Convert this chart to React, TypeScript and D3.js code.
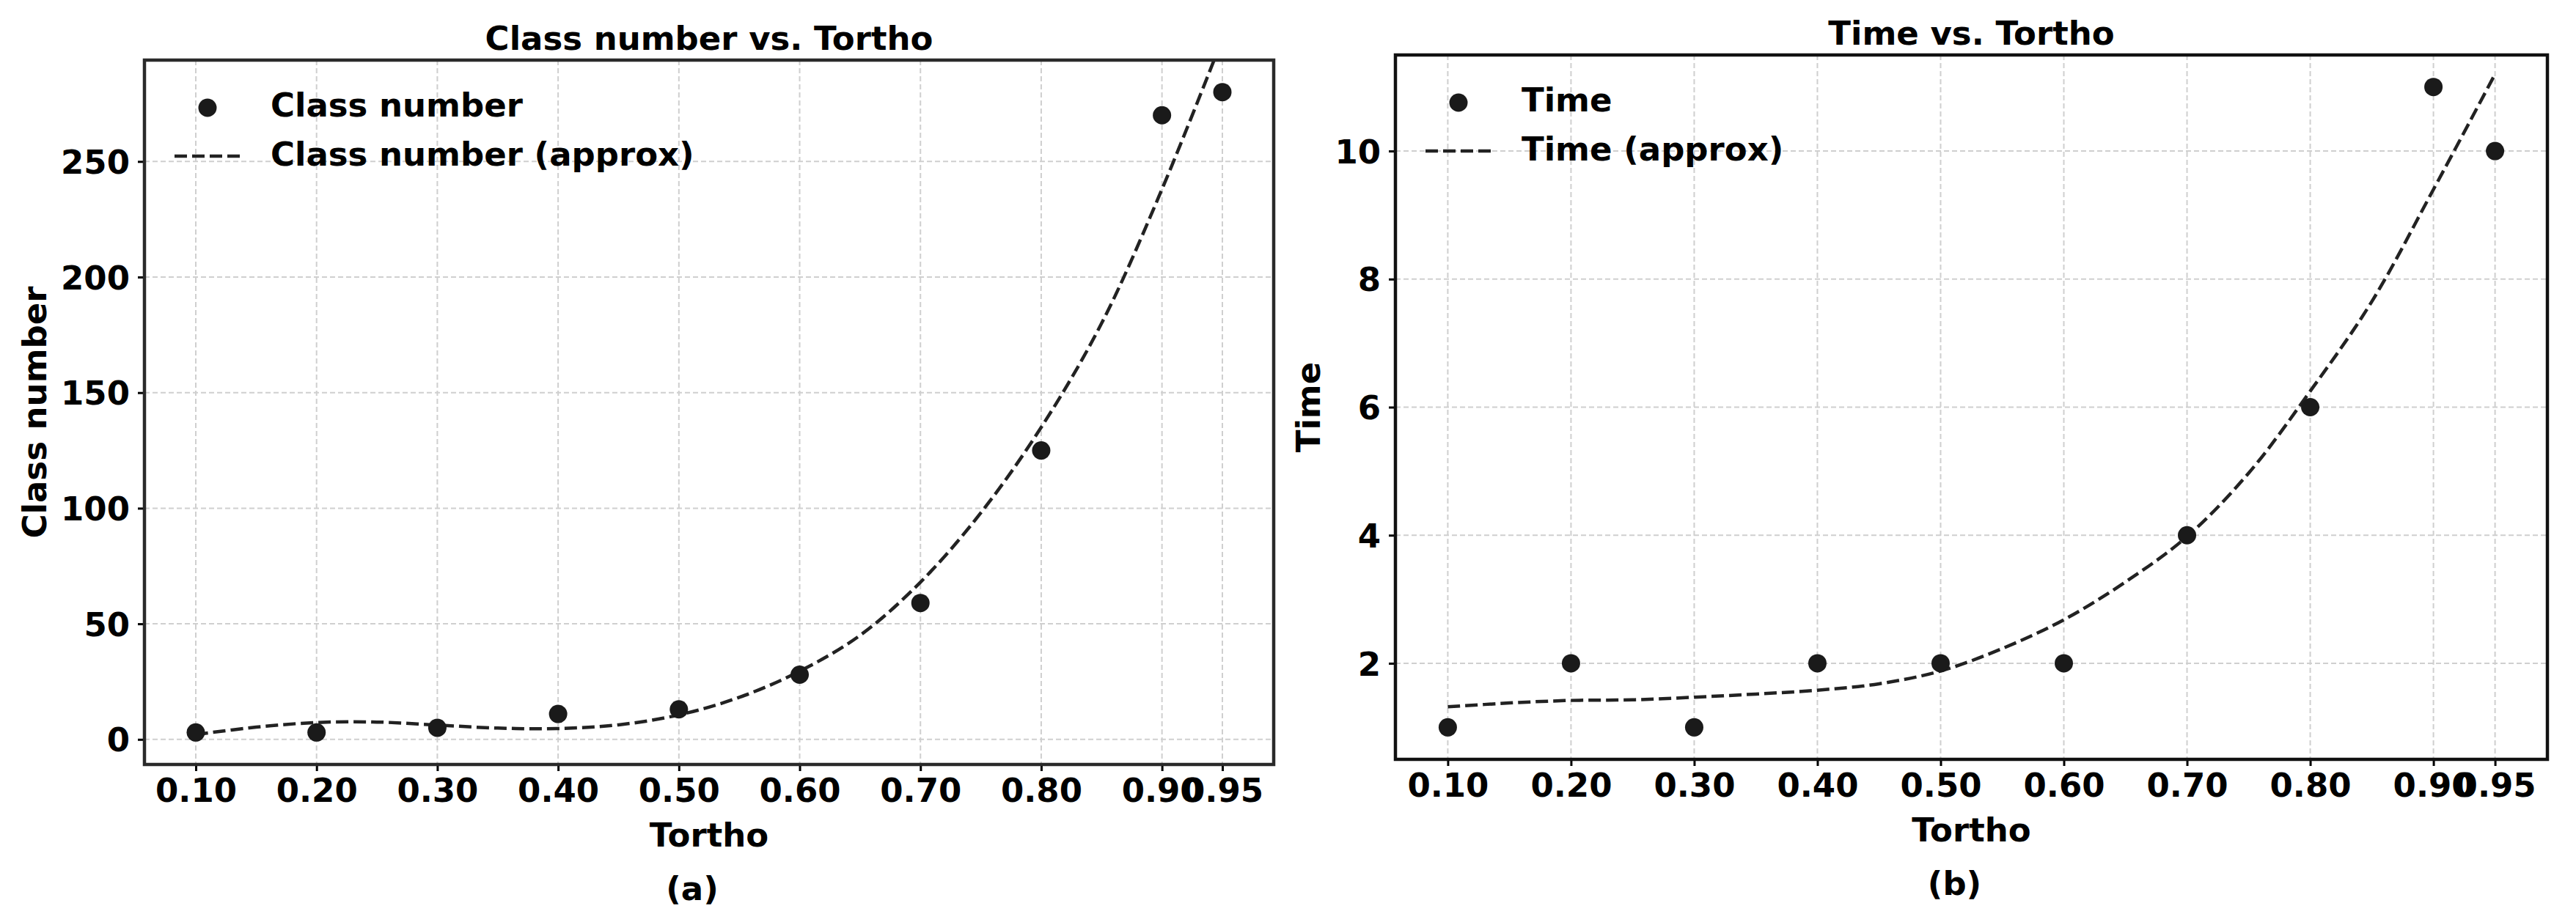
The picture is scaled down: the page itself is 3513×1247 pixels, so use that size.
import { FC, useRef, useEffect } from 'react';
import * as d3 from 'd3';

// Tortho values and their tick labels
const tortho = [0.1, 0.2, 0.3, 0.4, 0.5, 0.6, 0.7, 0.8, 0.9, 0.95];
const torthoLabels = ['0.10', '0.20', '0.30', '0.40', '0.50', '0.60', '0.70', '0.80', '0.90', '0.95'];

// measured points
const classNumber = [3, 3, 5, 11, 13, 28, 59, 125, 270, 280];
const timeValues = [1, 2, 1, 2, 2, 2, 4, 6, 11, 10];

// dashed "approx" curves
const approxX = [0.10, 0.15, 0.20, 0.25, 0.30, 0.35, 0.40, 0.45, 0.50, 0.55, 0.60, 0.65, 0.70, 0.75, 0.80, 0.85, 0.90, 0.95];
const classApprox = [2.1, 5.3, 7.3, 7.5, 6.2, 4.9, 4.7, 6.3, 10.6, 18.2, 29.5, 45, 68, 98, 135, 180, 238, 303];
const timeApprox = [1.32, 1.38, 1.42, 1.43, 1.47, 1.52, 1.58, 1.68, 1.88, 2.23, 2.68, 3.27, 3.98, 4.97, 6.25, 7.65, 9.4, 11.2];

const classTicks = [0, 50, 100, 150, 200, 250];
const timeTicks = [2, 4, 6, 8, 10];

const FONT = '"DejaVu Sans", Verdana, sans-serif';
const FS = 45;

interface PanelSpec {
  id: string;
  left: number; right: number; top: number; bottom: number;
  title: string;
  yLabel: string;
  caption: string;
  values: number[];
  approx: number[];
  yTicks: number[];
  frame: string;
}

const panels: PanelSpec[] = [
  {
    id: 'a', left: 197, right: 1737, top: 82, bottom: 1043,
    title: 'Class number vs. Tortho', yLabel: 'Class number', caption: '(a)',
    values: classNumber, approx: classApprox, yTicks: classTicks, frame: '#2a2a2a',
  },
  {
    id: 'b', left: 1903, right: 3474, top: 75, bottom: 1036,
    title: 'Time vs. Tortho', yLabel: 'Time', caption: '(b)',
    values: timeValues, approx: timeApprox, yTicks: timeTicks, frame: '#111',
  },
];

// matplotlib style 5% margins
const padded = (vals: number[]): [number, number] => {
  const [lo, hi] = d3.extent(vals) as [number, number];
  const m = (hi - lo) * 0.05;
  return [lo - m, hi + m];
};

const boldText = (sel: any) =>
  sel.attr('font-family', FONT).attr('font-size', FS).attr('font-weight', 'bold').attr('fill', '#000');

const drawPanel = (svg: any, p: PanelSpec) => {
  const x = d3.scaleLinear().domain(padded(tortho)).range([p.left, p.right]);
  const y = d3.scaleLinear().domain(padded(p.values)).range([p.bottom, p.top]);
  const g = svg.append('g');

  g.append('defs').append('clipPath').attr('id', 'clip-' + p.id)
    .append('rect')
    .attr('x', p.left).attr('y', p.top)
    .attr('width', p.right - p.left).attr('height', p.bottom - p.top);

  // grid
  g.append('g').selectAll('line').data(tortho).join('line')
    .attr('x1', (d: number) => x(d)).attr('x2', (d: number) => x(d))
    .attr('y1', p.top).attr('y2', p.bottom)
    .attr('stroke', '#cfcfcf').attr('stroke-width', 2).attr('stroke-dasharray', '7 4');
  g.append('g').selectAll('line').data(p.yTicks).join('line')
    .attr('x1', p.left).attr('x2', p.right)
    .attr('y1', (d: number) => y(d)).attr('y2', (d: number) => y(d))
    .attr('stroke', '#cfcfcf').attr('stroke-width', 2).attr('stroke-dasharray', '7 4');

  // axes
  const xAxis = g.append('g').attr('transform', `translate(0,${p.bottom})`)
    .call(d3.axisBottom(x).tickValues(tortho)
      .tickFormat((_d: any, i: number) => torthoLabels[i]).tickSize(9).tickPadding(10));
  xAxis.select('.domain').remove();
  xAxis.selectAll('line').attr('stroke', '#000').attr('stroke-width', 3);
  boldText(xAxis.selectAll('text'));

  const yAxis = g.append('g').attr('transform', `translate(${p.left},0)`)
    .call(d3.axisLeft(y).tickValues(p.yTicks).tickSize(9).tickPadding(11));
  yAxis.select('.domain').remove();
  yAxis.selectAll('line').attr('stroke', '#000').attr('stroke-width', 3);
  boldText(yAxis.selectAll('text')).attr('dy', '0.36em');

  // widest y tick label decides where the axis title goes
  let maxW = 0;
  yAxis.selectAll('text').each(function (this: SVGTextElement) {
    maxW = Math.max(maxW, this.getBBox().width);
  });

  // dashed approx curve
  const line = d3.line<number>()
    .x((_d, i) => x(approxX[i]))
    .y((d) => y(d))
    .curve(d3.curveCatmullRom.alpha(0.5));
  g.append('path')
    .datum(p.approx)
    .attr('clip-path', `url(#clip-${p.id})`)
    .attr('fill', 'none')
    .attr('stroke', '#222')
    .attr('stroke-width', 4.5)
    .attr('stroke-dasharray', '17 7')
    .attr('d', line);

  // points
  g.append('g').selectAll('circle').data(p.values).join('circle')
    .attr('cx', (_d: number, i: number) => x(tortho[i]))
    .attr('cy', (d: number) => y(d))
    .attr('r', 12.5)
    .attr('fill', '#1a1a1a');

  // legend
  const lg = g.append('g').attr('transform', `translate(${p.left},${p.top})`);
  lg.append('circle').attr('cx', 86).attr('cy', 65).attr('r', 12.5).attr('fill', '#1a1a1a');
  boldText(lg.append('text').attr('x', 172).attr('y', 77).text(p.yLabel));
  lg.append('line').attr('x1', 41).attr('x2', 131).attr('y1', 131).attr('y2', 131)
    .attr('stroke', '#222').attr('stroke-width', 4.5).attr('stroke-dasharray', '17 7');
  boldText(lg.append('text').attr('x', 172).attr('y', 144).text(p.yLabel + ' (approx)'));

  // frame
  g.append('rect')
    .attr('x', p.left).attr('y', p.top)
    .attr('width', p.right - p.left).attr('height', p.bottom - p.top)
    .attr('fill', 'none').attr('stroke', p.frame).attr('stroke-width', 4.5);

  const cx = (p.left + p.right) / 2;
  // title
  boldText(g.append('text').attr('x', cx).attr('y', p.top - 14)
    .attr('text-anchor', 'middle').text(p.title));
  // x label
  boldText(g.append('text').attr('x', cx).attr('y', p.bottom + 112)
    .attr('text-anchor', 'middle').text('Tortho'));
  // y label
  const ly = (p.top + p.bottom) / 2;
  const lx = p.left - 20 - maxW - 20;
  boldText(g.append('text')
    .attr('transform', `translate(${lx},${ly}) rotate(-90)`)
    .attr('text-anchor', 'middle').text(p.yLabel));
  // caption
  boldText(g.append('text').attr('x', cx - 23).attr('y', p.bottom + 185)
    .attr('text-anchor', 'middle').text(p.caption));
};

const TorthoCharts: FC = () => {
  const svgRef = useRef<SVGSVGElement>(null);

  useEffect(() => {
    const svg = d3.select(svgRef.current);
    svg.selectAll('*').remove();
    svg.append('rect').attr('width', 3513).attr('height', 1247).attr('fill', '#fff');
    panels.forEach((p) => drawPanel(svg, p));
  }, []);

  return (
    <svg
      ref={svgRef}
      width={3513}
      height={1247}
      style={{ position: 'absolute', left: 0, top: 0, display: 'block' }}
    />
  );
};

const App: FC = () => <TorthoCharts />;

export default App;
